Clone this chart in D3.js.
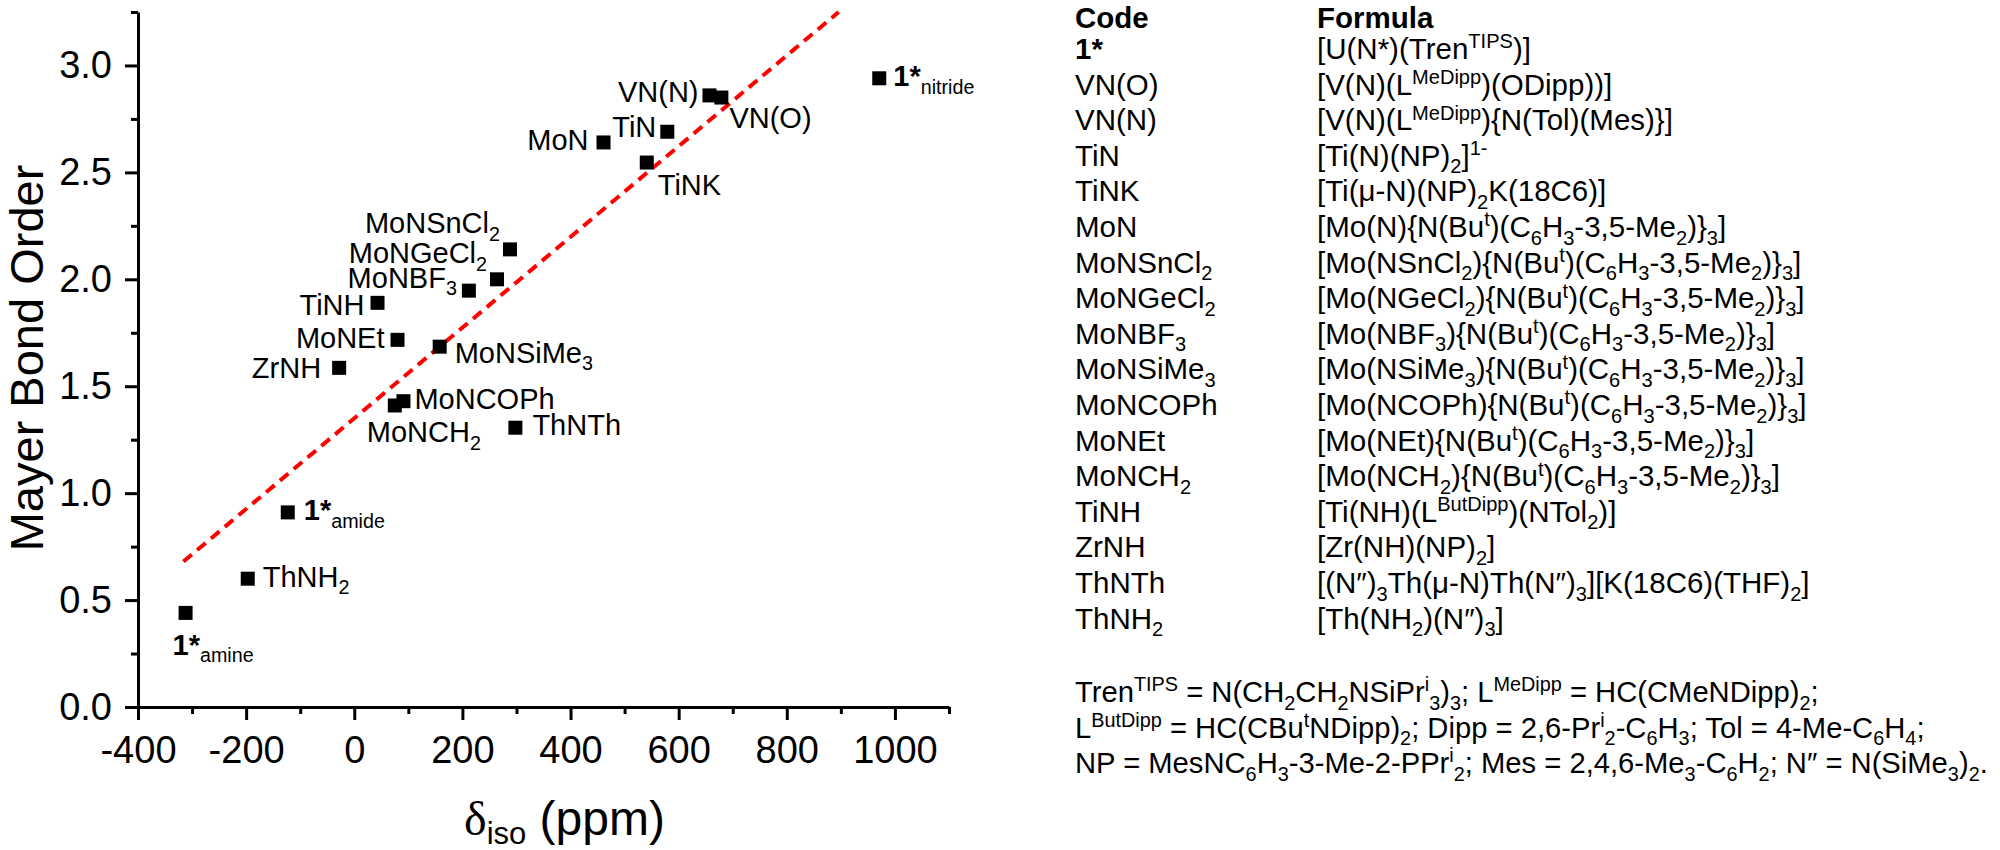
<!DOCTYPE html>
<html><head><meta charset="utf-8">
<script src="https://cdn.jsdelivr.net/npm/d3@7"></script>
<style>
body{margin:0;background:#fff;}
svg{display:block;}
text{font-family:"Liberation Sans",Arial,Helvetica,sans-serif;fill:#000;white-space:pre;}
</style>
</head><body>
<svg id="chart" width="2000" height="850"></svg>
<script>
// ---------------- data ----------------
const pointLabels = ["!<1*>_<amine>","ThNH_<2>","!<1*>_<amide>","ZrNH","TiNH","MoNEt","MoNCH_<2>","MoNCOPh","MoNSiMe_<3>","MoNBF_<3>","MoNGeCl_<2>","MoNSnCl_<2>","ThNTh","MoN","TiNK","TiN","VN(N)","VN(O)","!<1*>_<nitride>"];
const deltaIso = [-312,-197,-123,-28,43,80,75,91,158,212,264,288,298,461,541,579,657,679,971];
const mayerBO  = [0.44,0.60,0.91,1.586,1.89,1.717,1.41,1.43,1.685,1.947,2.0,2.14,1.306,2.64,2.546,2.69,2.86,2.85,2.94];
const fitX = [-316, 896];
const fitY = [0.68, 3.25];
const xTicks = [-400,-200,0,200,400,600,800,1000];
const xMinorTicks = [-300,-100,100,300,500,700,900,1100];
const yTicks = [0,0.5,1,1.5,2,2.5,3];
const yMinorTicks = [0.25,0.75,1.25,1.75,2.25,2.75,3.25];
const tableHeader = ["Code","Formula"];
const tableCodes = ["!<1*>","VN(O)","VN(N)","TiN","TiNK","MoN","MoNSnCl_<2>","MoNGeCl_<2>","MoNBF_<3>","MoNSiMe_<3>","MoNCOPh","MoNEt","MoNCH_<2>","TiNH","ZrNH","ThNTh","ThNH_<2>"];
const tableFormulas = [
 "[U(N*)(Tren^<TIPS>)]",
 "[V(N)(L^<MeDipp>)(ODipp))]",
 "[V(N)(L^<MeDipp>){N(Tol)(Mes)}]",
 "[Ti(N)(NP)_<2>]^<1->",
 "[Ti(μ-N)(NP)_<2>K(18C6)]",
 "[Mo(N){N(Bu^<t>)(C_<6>H_<3>-3,5-Me_<2>)}_<3>]",
 "[Mo(NSnCl_<2>){N(Bu^<t>)(C_<6>H_<3>-3,5-Me_<2>)}_<3>]",
 "[Mo(NGeCl_<2>){N(Bu^<t>)(C_<6>H_<3>-3,5-Me_<2>)}_<3>]",
 "[Mo(NBF_<3>){N(Bu^<t>)(C_<6>H_<3>-3,5-Me_<2>)}_<3>]",
 "[Mo(NSiMe_<3>){N(Bu^<t>)(C_<6>H_<3>-3,5-Me_<2>)}_<3>]",
 "[Mo(NCOPh){N(Bu^<t>)(C_<6>H_<3>-3,5-Me_<2>)}_<3>]",
 "[Mo(NEt){N(Bu^<t>)(C_<6>H_<3>-3,5-Me_<2>)}_<3>]",
 "[Mo(NCH_<2>){N(Bu^<t>)(C_<6>H_<3>-3,5-Me_<2>)}_<3>]",
 "[Ti(NH)(L^<ButDipp>)(NTol_<2>)]",
 "[Zr(NH)(NP)_<2>]",
 "[(N″)_<3>Th(μ-N)Th(N″)_<3>][K(18C6)(THF)_<2>]",
 "[Th(NH_<2>)(N″)_<3>]"
];
const footnotes = [
 "Tren^<TIPS> = N(CH_<2>CH_<2>NSiPr^<i>_<3>)_<3>; L^<MeDipp> = HC(CMeNDipp)_<2>;",
 "L^<ButDipp> = HC(CBu^<t>NDipp)_<2>; Dipp = 2,6-Pr^<i>_<2>-C_<6>H_<3>; Tol = 4-Me-C_<6>H_<4>;",
 "NP = MesNC_<6>H_<3>-3-Me-2-PPr^<i>_<2>; Mes = 2,4,6-Me_<3>-C_<6>H_<2>; N″ = N(SiMe_<3>)_<2>."
];

// ---------------- layout (label placement, px) ----------------
const labelPlace = [
 ["start",-13,42],["start",15,8],["start",16,8],["end",-18,10],["end",-13,12],["end",-13,8],
 ["start",-28,37],["start",11,8],["start",15,16],["end",-12,-3],["end",-10,-16],["end",-10,-16],
 ["start",17,7],["end",-15,8],["start",11,32],["end",-11,5],["end",-11,7],["start",8,30],["start",14,8]
];

// ---------------- helpers ----------------
function rich(sel, str, fs) {
  const re = /([_^!])<([^>]*)>/g;
  let last = 0, m, segs = [];
  while ((m = re.exec(str))) {
    if (m.index > last) segs.push({t: str.slice(last, m.index), k: ""});
    segs.push({t: m[2], k: m[1]});
    last = re.lastIndex;
  }
  if (last < str.length) segs.push({t: str.slice(last), k: ""});
  let cur = 0;
  segs.forEach(s => {
    const off = s.k === "_" ? 0.26 * fs : s.k === "^" ? -0.36 * fs : 0;
    const size = (s.k === "_" || s.k === "^") ? 0.68 * fs : fs;
    sel.append("tspan")
      .attr("dy", (off - cur).toFixed(2))
      .attr("font-size", size)
      .attr("font-weight", s.k === "!" ? "bold" : null)
      .text(s.t);
    cur = off;
  });
}

// ---------------- chart ----------------
const svg = d3.select("#chart");
svg.append("rect").attr("width", 2000).attr("height", 850).attr("fill", "#fff");

const x = d3.scaleLinear().domain([-400, 1100]).range([138, 949]);
const y = d3.scaleLinear().domain([0, 3.25]).range([707, 12]);

const gx = svg.append("g").attr("transform", "translate(0,707)");
gx.call(d3.axisBottom(x).tickValues(xMinorTicks).tickSize(7).tickSizeOuter(0).tickFormat(""));
gx.call(g => g.select(".domain").remove());
const gx2 = svg.append("g").attr("transform", "translate(0,707)");
gx2.call(d3.axisBottom(x).tickValues(xTicks).tickSize(13).tickSizeOuter(0).tickPadding(16).tickFormat(d => String(d)));

const gy = svg.append("g").attr("transform", "translate(138,0)");
gy.call(d3.axisLeft(y).tickValues(yMinorTicks).tickSize(7).tickSizeOuter(0).tickFormat(""));
gy.call(g => g.select(".domain").remove());
const gy2 = svg.append("g").attr("transform", "translate(138,0)");
gy2.call(d3.axisLeft(y).tickValues(yTicks).tickSize(13).tickSizeOuter(0).tickPadding(13).tickFormat(d3.format(".1f")));

svg.selectAll(".domain").attr("stroke", "#000").attr("stroke-width", 3);
svg.selectAll(".tick line").attr("stroke", "#000").attr("stroke-width", 3);
svg.selectAll(".tick text").attr("font-size", 38).attr("font-family", "Liberation Sans, Arial, sans-serif").attr("fill", "#000");

// axis titles
svg.append("text")
  .attr("transform", "translate(43,358) rotate(-90)")
  .attr("text-anchor", "middle")
  .attr("font-size", 47)
  .text("Mayer Bond Order");

const xt = svg.append("text").attr("x", 464).attr("y", 835).attr("font-size", 48);
xt.append("tspan").attr("font-family", "Liberation Serif, Times New Roman, serif").text("δ");
xt.append("tspan").attr("font-size", 31).attr("dy", 9).text("iso");
xt.append("tspan").attr("dy", -9).text(" (ppm)");

// fit line
const fitData = fitX.map((v, i) => [v, fitY[i]]);
svg.append("path")
  .datum(fitData)
  .attr("d", d3.line().x(d => x(d[0])).y(d => y(d[1])))
  .attr("fill", "none")
  .attr("stroke", "#ff0000")
  .attr("stroke-width", 4)
  .attr("stroke-dasharray", "11,7");

// points
const pts = deltaIso.map((v, i) => ({x: v, y: mayerBO[i], label: pointLabels[i], place: labelPlace[i]}));
const sq = 14;
svg.append("g").selectAll("rect").data(pts).join("rect")
  .attr("x", d => x(d.x) - sq / 2)
  .attr("y", d => y(d.y) - sq / 2)
  .attr("width", sq).attr("height", sq)
  .attr("fill", "#000");

svg.append("g").selectAll("text").data(pts).join("text")
  .attr("x", d => x(d.x) + d.place[1])
  .attr("y", d => y(d.y) + d.place[2])
  .attr("text-anchor", d => d.place[0])
  .attr("font-size", 29)
  .each(function(d) { rich(d3.select(this), d.label, 29); });

// ---------------- table ----------------
const tfs = 29.5;
const colCode = 1075, colFormula = 1317, headerY = 28, row0 = 59, rowStep = 35.6;
const tbl = svg.append("g");
tbl.append("text").attr("x", colCode).attr("y", headerY).attr("font-size", tfs).attr("font-weight", "bold").text(tableHeader[0]);
tbl.append("text").attr("x", colFormula).attr("y", headerY).attr("font-size", tfs).attr("font-weight", "bold").text(tableHeader[1]);
tableCodes.forEach((c, i) => {
  const t = tbl.append("text").attr("x", colCode).attr("y", row0 + i * rowStep).attr("font-size", tfs);
  rich(t, c, tfs);
  const f = tbl.append("text").attr("x", colFormula).attr("y", row0 + i * rowStep).attr("font-size", tfs);
  rich(f, tableFormulas[i], tfs);
});
const footY = [702, 737.5, 773];
const footFs = 29.2;
footnotes.forEach((s, i) => {
  const t = tbl.append("text").attr("x", colCode).attr("y", footY[i]).attr("font-size", footFs);
  rich(t, s, footFs);
});
</script>
</body></html>
